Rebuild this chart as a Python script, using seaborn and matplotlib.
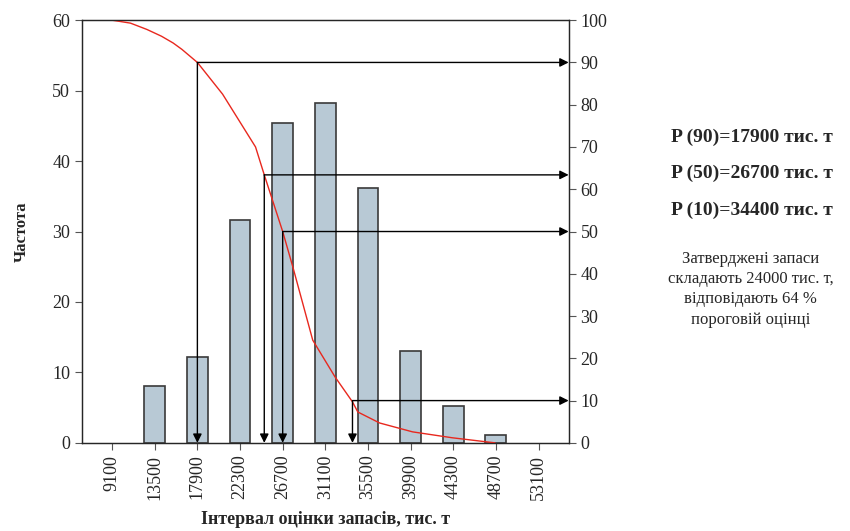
import numpy as np
import pandas as pd
import seaborn as sns
import matplotlib.pyplot as plt

# histogram of reserve estimates
intervals = [9100, 13500, 17900, 22300, 26700, 31100, 35500, 39900, 44300, 48700, 53100]
freq = [0, 8.1, 12.2, 31.7, 45.4, 48.2, 36.2, 13.0, 5.2, 1.1, 0]

# exceedance probability curve (%)
curve_x = [9100, 11000, 12700, 14200, 15400, 16300, 17900, 20500, 23900, 24800, 26700, 27750,
           29800, 32100, 33900, 34450, 36700, 40100, 44200, 48600]
curve_p = [100, 99.3, 97.8, 96.2, 94.6, 93.1, 90, 82.5, 70, 63.4, 50, 41.6,
           24.3, 15.6, 9.7, 7.3, 4.7, 2.6, 1.2, 0]

# probability markers (value, percent)
mark_x = [17900, 24800, 26700, 33900]
mark_p = [90, 63.4, 50, 10]

p_lines = ["P (90)=17900 тис. т", "P (50)=26700 тис. т", "P (10)=34400 тис. т"]
note = "Затверджені запаси\nскладають 24000 тис. т,\nвідповідають 64 %\nпороговій оцінці"

sns.set_style("ticks")
plt.rcParams['font.family'] = ['Liberation Serif', 'DejaVu Serif']

fig = plt.figure(figsize=(8.5, 5.31), dpi=100)
ax = fig.add_axes([0.0965, 0.166, 0.5725, 0.796])

df = pd.DataFrame({"x": intervals, "f": freq})
sns.barplot(data=df, x="x", y="f", native_scale=True, width=0.49,
            color="#b8c9d5", saturation=1, edgecolor="#3a3a3a", linewidth=1.2, ax=ax)
for p in ax.patches:
    if p.get_height() == 0:
        p.set_visible(False)
ax.set_xlim(6000, 56200)
ax.set_ylim(0, 60)
ax.set_xticks(intervals)
ax.set_xticklabels([str(v) for v in intervals], rotation=90, fontsize=13)
ax.set_yticks(range(0, 61, 10))
ax.tick_params(axis='y', labelsize=13, length=5, color="#555555")
ax.tick_params(axis='x', length=5, color="#555555")
ax.set_xlabel("Інтервал оцінки запасів, тис. т", fontsize=13, fontweight="bold", labelpad=8)
ax.set_ylabel("Частота", fontsize=12, fontweight="bold", labelpad=16)
for s in ax.spines.values():
    s.set_color("#333333")
    s.set_linewidth(1)

ax2 = ax.twinx()
sns.lineplot(x=curve_x, y=curve_p, color="#e8281e", lw=1, ax=ax2)
ax2.set_ylim(0, 100)
ax2.set_xlim(6000, 56200)
ax2.set_yticks(range(0, 101, 10))
ax2.tick_params(axis='y', labelsize=13, length=5, color="#555555")

ap = dict(arrowstyle='-|>', color='black', lw=1, mutation_scale=13, shrinkA=0, shrinkB=0)
for xv, pv in zip(mark_x, mark_p):
    ax2.annotate("", xy=(56200, pv), xytext=(xv, pv), arrowprops=ap)
    ax2.annotate("", xy=(xv, 0), xytext=(xv, pv), arrowprops=ap)

for i, t in enumerate(p_lines):
    fig.text(0.885, 0.742 - i * 0.069, t, ha="center", va="center",
             fontsize=14, fontweight="bold")
fig.text(0.883, 0.455, note, ha="center", va="center", fontsize=12, linespacing=1.35)

fig.savefig("out.png", dpi=100)
